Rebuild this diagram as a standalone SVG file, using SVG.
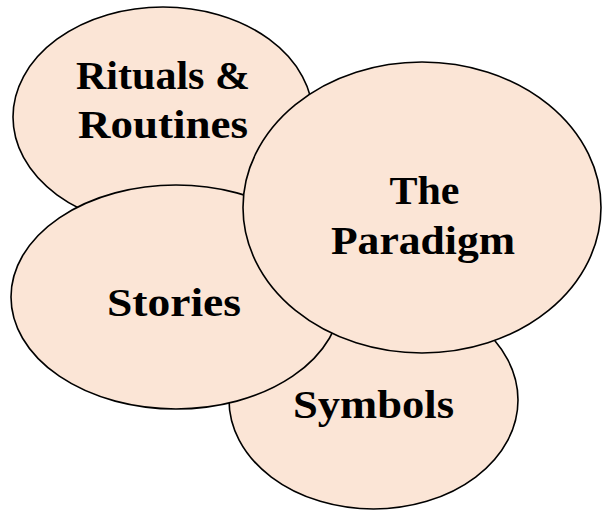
<svg xmlns="http://www.w3.org/2000/svg" width="602" height="511" viewBox="0 0 602 511">
<style>
.n{fill:#FBE5D6;stroke:#000;stroke-width:1.6}
.t{font-family:"Liberation Serif","Times New Roman",serif;font-weight:bold;font-size:41px;fill:#000;text-anchor:middle}
</style>
<rect width="602" height="511" fill="#fff"/>
<g id="rituals">
<ellipse class="n" cx="163" cy="117" rx="150" ry="110"/>
<text class="t" x="163" y="89" textLength="174" lengthAdjust="spacingAndGlyphs">Rituals &amp;</text>
<text class="t" x="163" y="138" textLength="170" lengthAdjust="spacingAndGlyphs">Routines</text>
</g>
<g id="symbols">
<ellipse class="n" cx="373.5" cy="400" rx="144.5" ry="109"/>
<text class="t" x="373.5" y="418" textLength="161" lengthAdjust="spacingAndGlyphs">Symbols</text>
</g>
<g id="stories">
<ellipse class="n" cx="176" cy="297" rx="165" ry="112"/>
<text class="t" x="174" y="316" textLength="134" lengthAdjust="spacingAndGlyphs">Stories</text>
</g>
<g id="paradigm">
<ellipse class="n" cx="422" cy="207.5" rx="179" ry="145.5"/>
<text class="t" x="424.5" y="204" textLength="70" lengthAdjust="spacingAndGlyphs">The</text>
<text class="t" x="423" y="254" textLength="184" lengthAdjust="spacingAndGlyphs">Paradigm</text>
</g>
</svg>
